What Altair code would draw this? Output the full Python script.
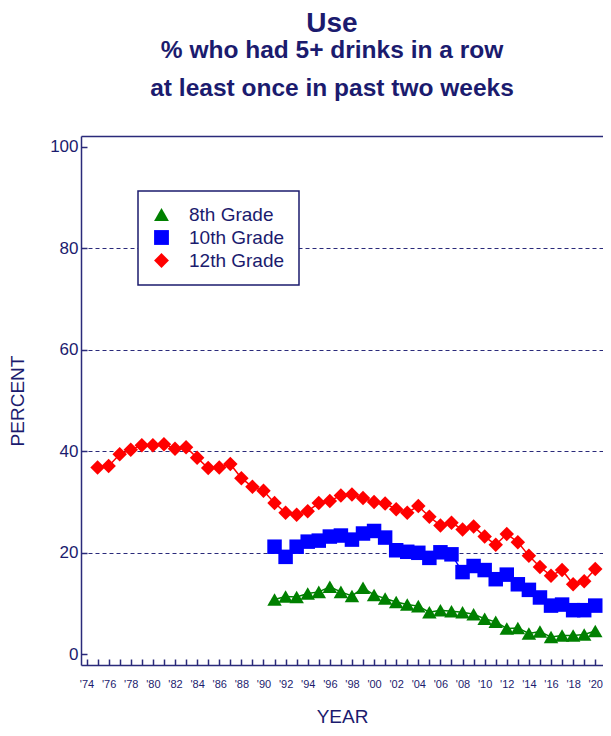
import altair as alt
import pandas as pd

# ---- data ----
years_12 = list(range(1975, 2021))
grade12 = [36.8, 37.1, 39.4, 40.3, 41.2, 41.2, 41.4, 40.5, 40.8, 38.7,
           36.7, 36.8, 37.5, 34.7, 33.0, 32.2, 29.8, 27.9, 27.5, 28.2,
           29.8, 30.2, 31.3, 31.5, 30.8, 30.0, 29.7, 28.6, 27.9, 29.2,
           27.1, 25.4, 25.9, 24.6, 25.2, 23.2, 21.6, 23.7, 22.1, 19.4,
           17.2, 15.5, 16.6, 13.8, 14.4, 16.8]
years_8_10 = list(range(1991, 2021))
grade10 = [21.2, 19.2, 21.2, 22.2, 22.4, 23.2, 23.4, 22.6, 23.8, 24.3,
           23.0, 20.5, 20.2, 20.0, 19.0, 20.1, 19.7, 16.2, 17.4, 16.6,
           14.8, 15.7, 13.8, 12.7, 11.2, 9.6, 9.8, 8.7, 8.7, 9.6]
grade8 = [10.8, 11.4, 11.3, 12.0, 12.3, 13.3, 12.3, 11.5, 13.1, 11.7,
          11.0, 10.3, 9.8, 9.5, 8.3, 8.7, 8.5, 8.3, 7.9, 7.0,
          6.4, 5.1, 5.2, 4.1, 4.5, 3.4, 3.7, 3.7, 3.9, 4.6]

grades = ["8th Grade", "10th Grade", "12th Grade"]
colors = ["#008000", "#0000ff", "#ff0000"]
shapes = ["triangle-up", "square", "diamond"]
year_ticks = list(range(1974, 2021))
year_labels = list(range(1974, 2021, 2))
pct_ticks = [0, 20, 40, 60, 80, 100]

rows = []
for y, v in zip(years_8_10, grade8):
    rows.append({"year": y, "value": v, "grade": "8th Grade"})
for y, v in zip(years_8_10, grade10):
    rows.append({"year": y, "value": v, "grade": "10th Grade"})
for y, v in zip(years_12, grade12):
    rows.append({"year": y, "value": v, "grade": "12th Grade"})
df = pd.DataFrame(rows)

NAVY = "#1b1b6e"
LINE = "#2a2a7a"
FONT = "Liberation Sans"

xscale = alt.Scale(domain=[1973.5, 2020.7], nice=False, zero=False)
yscale = alt.Scale(domain=[-2.1, 102.1], nice=False, zero=False)
cscale = alt.Scale(domain=grades, range=colors)
sscale = alt.Scale(domain=grades, range=shapes)

base = alt.Chart(df)

# lines + inward tick marks
lines = base.mark_line(strokeWidth=1.5, clip=True).encode(
    x=alt.X("year:Q", scale=xscale,
            axis=alt.Axis(orient="bottom", values=year_ticks, offset=-6, tickSize=6,
                          ticks=True, domain=False, labels=False, grid=False, title=None,
                          tickColor=LINE, tickWidth=1.5)),
    y=alt.Y("value:Q", scale=yscale,
            axis=alt.Axis(orient="left", values=pct_ticks, offset=-6, tickSize=6,
                          ticks=True, domain=False, labels=False, grid=False, title=None,
                          tickColor=LINE, tickWidth=1.5)),
    color=alt.Color("grade:N", scale=cscale, legend=None),
)

leg = dict(title=None, orient="none", legendX=57, legendY=55,
           strokeColor=NAVY, fillColor="white", padding=14,
           labelFont=FONT, labelFontSize=19, labelColor=NAVY,
           symbolSize=220, symbolOffset=0, labelOffset=18, rowPadding=3,
           labelExpr="datum.label + '\u00a0\u00a0\u00a0\u00a0'")

points = base.mark_point(filled=True, size=210, opacity=1, clip=True).encode(
    x=alt.X("year:Q", scale=xscale,
            axis=alt.Axis(orient="bottom", values=year_labels,
                          labelExpr="\"'\" + format(datum.value % 100, '02d')",
                          ticks=False, tickSize=0, domain=True, domainColor=LINE,
                          domainWidth=1.5, grid=False, labelFont=FONT, labelFontSize=11,
                          labelColor=NAVY, labelPadding=13, title="YEAR",
                          titleFont=FONT, titleFontSize=19, titleFontWeight="normal",
                          titleColor=NAVY, titlePadding=18)),
    y=alt.Y("value:Q", scale=yscale,
            axis=alt.Axis(orient="left", values=pct_ticks, ticks=False, tickSize=0,
                          domain=True, domainColor=LINE, domainWidth=1.5, grid=True,
                          gridColor=LINE, gridDash=[4, 3], gridWidth=1,
                          gridOpacity={"condition": {"test": "datum.value == 0 || datum.value == 100", "value": 0}, "value": 1},
                          labelFont=FONT, labelFontSize=17, labelColor=NAVY, labelPadding=3,
                          title="PERCENT", titleFont=FONT, titleFontSize=19,
                          titleFontWeight="normal", titleColor=NAVY, titlePadding=22)),
    color=alt.Color("grade:N", scale=cscale, legend=alt.Legend(**leg)),
    shape=alt.Shape("grade:N", scale=sscale, legend=alt.Legend(**leg)),
)

# top frame line
top = base.mark_line(opacity=0).encode(
    x=alt.X("year:Q", scale=xscale,
            axis=alt.Axis(orient="top", ticks=False, labels=False, grid=False, title=None,
                          domain=True, domainColor=LINE, domainWidth=1.5)),
    y=alt.Y("value:Q", scale=yscale, axis=None),
    detail="grade:N",
)

chart = alt.layer(lines, points, top).resolve_axis(
    x="independent", y="independent"
).resolve_legend(
    color="independent", shape="independent"
).properties(
    width=522,
    height=529,
    autosize=alt.AutoSizeParams(type="none"),
    padding={"left": 73, "top": 128, "right": 0, "bottom": 63},
    title=alt.Title(
        text="Use",
        subtitle=["% who had 5+ drinks in a row", "at least once in past two weeks"],
        anchor="middle", frame="group", dx=-10, offset=36,
        font=FONT, fontSize=28, fontWeight="bold", color=NAVY,
        subtitleFont=FONT, subtitleFontSize=24.5, subtitleFontWeight="bold",
        subtitleColor=NAVY, subtitleLineHeight=38, subtitlePadding=1,
    ),
).configure_view(stroke=None).configure_legend(strokeWidth=1.5)

chart.save("out.html", embed_options={"renderer": "svg", "actions": False})
